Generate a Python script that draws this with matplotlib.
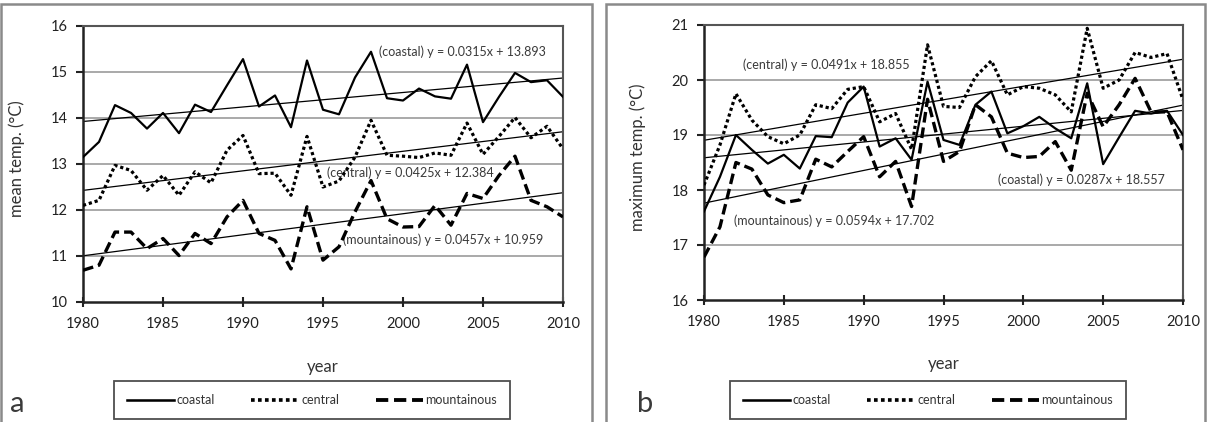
import numpy as np
import matplotlib
matplotlib.use("Agg")
import matplotlib.pyplot as plt
from matplotlib.patches import Rectangle

plt.rcParams['font.family'] = ['Lato', 'DejaVu Sans']

years = list(range(1980, 2011))

# Panel a: mean temperature
mean_coastal = [13.15, 13.48, 14.28, 14.11, 13.77, 14.11, 13.67, 14.29, 14.13, 14.71, 15.28,
                14.25, 14.49, 13.80, 15.25, 14.18, 14.08, 14.88, 15.44, 14.43, 14.38,
                14.64, 14.47, 14.42, 15.16, 13.91, 14.46, 14.98, 14.78, 14.82, 14.46]
mean_central = [12.10, 12.21, 12.97, 12.86, 12.43, 12.75, 12.32, 12.83, 12.59, 13.30, 13.62,
                12.79, 12.80, 12.32, 13.60, 12.50, 12.63, 13.15, 13.95, 13.19, 13.17,
                13.14, 13.24, 13.19, 13.89, 13.21, 13.60, 14.01, 13.57, 13.82, 13.33]
mean_mountainous = [10.69, 10.80, 11.52, 11.52, 11.16, 11.38, 11.01, 11.49, 11.27, 11.85, 12.21,
                    11.49, 11.34, 10.72, 12.07, 10.91, 11.20, 11.96, 12.64, 11.81, 11.63,
                    11.64, 12.10, 11.67, 12.36, 12.25, 12.75, 13.17, 12.21, 12.07, 11.85]

# Panel b: maximum temperature
max_coastal = [17.61, 18.24, 19.00, 18.73, 18.48, 18.64, 18.39, 18.98, 18.96, 19.59, 19.88,
               18.79, 18.94, 18.55, 19.97, 18.91, 18.82, 19.55, 19.79, 19.03, 19.16,
               19.33, 19.12, 18.94, 19.94, 18.47, 18.96, 19.44, 19.39, 19.44, 19.00]
max_central = [18.09, 18.82, 19.75, 19.27, 18.97, 18.84, 19.00, 19.55, 19.48, 19.83, 19.88,
               19.24, 19.39, 18.74, 20.64, 19.52, 19.50, 20.06, 20.35, 19.73, 19.88,
               19.85, 19.73, 19.42, 20.94, 19.85, 20.00, 20.50, 20.41, 20.48, 19.64]
max_mountainous = [16.78, 17.33, 18.50, 18.38, 17.91, 17.77, 17.82, 18.56, 18.42, 18.70, 18.97,
                   18.24, 18.52, 17.70, 19.65, 18.52, 18.70, 19.55, 19.33, 18.67, 18.59,
                   18.61, 18.88, 18.36, 19.76, 19.15, 19.55, 20.03, 19.42, 19.42, 18.73]

# Linear trends (y = slope * x + intercept, x = 1 for 1980)
mean_slopes = [0.0315, 0.0425, 0.0457]
mean_intercepts = [13.893, 12.384, 10.959]
max_slopes = [0.0287, 0.0491, 0.0594]
max_intercepts = [18.557, 18.855, 17.702]

series_names = ['coastal', 'central', 'mountainous']

W, H = 1217, 422
fig = plt.figure(figsize=(W / 100, H / 100), dpi=100)

styles = [
    dict(color='black', lw=1.6, linestyle='-'),
    dict(color='black', lw=2.3, linestyle=(0, (1, 0.9))),
    dict(color='black', lw=2.4, linestyle=(0, (3.2, 1.5))),
]


def px_axes(l, t, r, b):
    return [l / W, 1 - b / H, (r - l) / W, (b - t) / H]


def setup(ax, ylim, ylabel):
    ax.set_xlim(1980, 2010)
    ax.set_ylim(*ylim)
    ax.set_xticks(range(1980, 2011, 5))
    ax.set_yticks(range(ylim[0], ylim[1] + 1))
    for yv in range(ylim[0] + 1, ylim[1]):
        ax.axhline(yv, color='#a3a3a3', lw=1.3, zorder=1)
    for s in ['top', 'right']:
        ax.spines[s].set_color('#555555')
        ax.spines[s].set_linewidth(1.5)
    for s in ['left', 'bottom']:
        ax.spines[s].set_color('#222222')
        ax.spines[s].set_linewidth(1.8)
    ax.tick_params(axis='y', direction='out', length=5, width=1.5, pad=6,
                   labelsize=10.5, colors='#222222')
    ax.tick_params(axis='x', direction='inout', length=7, width=1.5, pad=7,
                   labelsize=10.5, colors='#222222')
    ax.set_ylabel(ylabel, fontsize=12, color='#333333')
    ax.yaxis.set_label_coords(-0.121, 0.52)
    ax.set_xlabel('year', fontsize=12, color='#333333')
    ax.xaxis.set_label_coords(0.5, -0.205)


def draw(ax, data, slopes, intercepts):
    handles = []
    x_idx = np.array(years) - 1979
    for vals, st, name in zip(data, styles, series_names):
        h, = ax.plot(years, vals, label=name, zorder=3, **st)
        handles.append(h)
    for sl, ic in zip(slopes, intercepts):
        ax.plot(years, sl * x_idx + ic, color='black', lw=0.9, zorder=2)
    return handles


def legend(ax, handles, cx):
    leg = fig.legend(handles, series_names, loc='center', ncol=3,
                     bbox_to_anchor=(cx / W, 1 - 400 / H), frameon=True, fancybox=False,
                     edgecolor='#222222', fontsize=9, handlelength=3.8, handletextpad=0.2,
                     columnspacing=2.9, borderpad=1.05, borderaxespad=0)
    leg.get_frame().set_linewidth(1.3)
    for t in leg.get_texts():
        t.set_color('#333333')
    for lh in leg.get_lines():
        lh.set_linewidth(lh.get_linewidth() * 1.15)


# Panel frames
fig.add_artist(Rectangle((1 / W, -0.1), (592 - 1) / W, 1.1 - 4 / H, transform=fig.transFigure,
                         fill=False, edgecolor='#8a8a8a', lw=1.8))
fig.add_artist(Rectangle((606 / W, -0.1), (1205 - 606) / W, 1.1 - 4 / H, transform=fig.transFigure,
                         fill=False, edgecolor='#8a8a8a', lw=1.8))

# Panel a
axa = fig.add_axes(px_axes(83, 26, 563, 302))
setup(axa, (10, 16), 'mean temp. (°C)')
ha = draw(axa, [mean_coastal, mean_central, mean_mountainous], mean_slopes, mean_intercepts)
tkw = dict(fontsize=9, color='#3a3a3a', va='center', ha='left', zorder=2)
axa.text(1998.5, 15.43, f'(coastal) y = {mean_slopes[0]}x + {mean_intercepts[0]}', **tkw)
axa.text(1995.25, 12.80, f'(central) y = {mean_slopes[1]}x + {mean_intercepts[1]}', **tkw)
axa.text(1996.25, 11.35, f'(mountainous) y = {mean_slopes[2]}x + {mean_intercepts[2]}', **tkw)
legend(axa, ha, 312)
fig.text(10 / W, 1 - 404 / H, 'a', fontsize=21, color='#3a3a3a', va='center', ha='left')

# Panel b
axb = fig.add_axes(px_axes(704, 25, 1183, 300))
setup(axb, (16, 21), 'maximum temp. (°C)')
hb = draw(axb, [max_coastal, max_central, max_mountainous], max_slopes, max_intercepts)
axb.text(1982.44, 20.27, f'(central) y = {max_slopes[1]}x + {max_intercepts[1]}', **tkw)
axb.text(1981.9, 17.45, f'(mountainous) y = {max_slopes[2]}x + {max_intercepts[2]}', **tkw)
axb.text(1998.44, 18.18, f'(coastal) y = {max_slopes[0]}x + {max_intercepts[0]}', **tkw)
legend(axb, hb, 928)
fig.text(637 / W, 1 - 404 / H, 'b', fontsize=21, color='#3a3a3a', va='center', ha='left')

fig.savefig('out.png', dpi=100)
